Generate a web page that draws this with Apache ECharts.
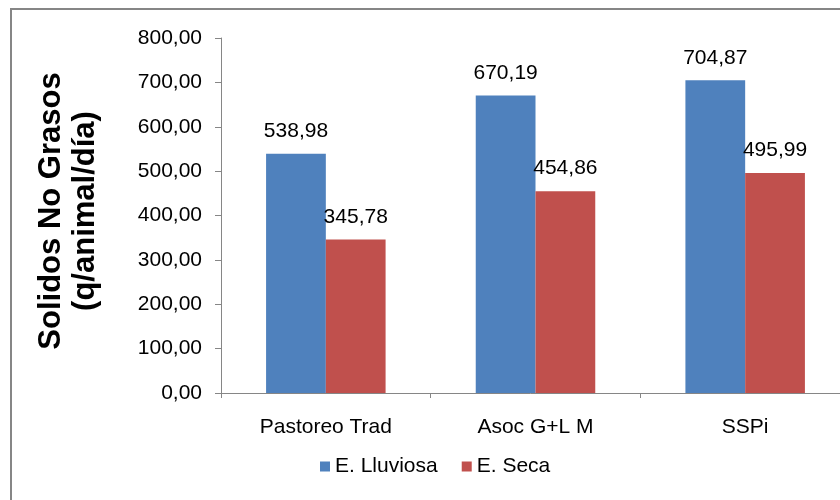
<!DOCTYPE html>
<html>
<head>
<meta charset="utf-8">
<script src="https://cdn.jsdelivr.net/npm/echarts@6/dist/echarts.min.js"></script>
<style>
  html, body { margin: 0; padding: 0; background: #ffffff; }
  #chart { width: 840px; height: 500px; }
</style>
</head>
<body>
<div id="chart"></div>
<script>
// Solids-not-fat yield per animal and day, by production system and season
const categories = ['Pastoreo Trad', 'Asoc G+L M', 'SSPi'];
const lluviosa = [538.98, 670.19, 704.87];
const seca = [345.78, 454.86, 495.99];
const seriesNames = ['E. Lluviosa', 'E. Seca'];
const axisTitle = 'Solidos No Grasos\n(q/animal/día)';

const FONT = '"Liberation Sans", Arial, sans-serif';
const AXIS_GREY = '#868686';
const fmt = v => Number(v).toFixed(2).replace('.', ',');

const chart = echarts.init(document.getElementById('chart'), null, { renderer: 'canvas' });

const barLabel = {
  show: true,
  position: 'top',
  distance: 12,
  color: '#000000',
  fontFamily: FONT,
  fontSize: 21,
  formatter: p => fmt(p.value)
};

chart.setOption({
  animation: false,
  backgroundColor: '#ffffff',
  textStyle: { fontFamily: FONT },
  // the plot area runs past the right edge of the canvas
  grid: { left: 221, top: 38, width: 629, height: 355, containLabel: false, outerBoundsMode: 'none' },
  legend: {
    data: seriesNames,
    left: 320,
    top: 456,
    padding: 0,
    icon: 'rect',
    itemWidth: 10,
    itemHeight: 10,
    itemGap: 24,
    textStyle: { fontFamily: FONT, fontSize: 21, color: '#000000' }
  },
  xAxis: {
    type: 'category',
    data: categories,
    axisLine: { lineStyle: { color: AXIS_GREY, width: 1 } },
    axisTick: { show: true, length: 5, alignWithLabel: false, lineStyle: { color: AXIS_GREY } },
    axisLabel: { margin: 24, color: '#000000', fontFamily: FONT, fontSize: 21 },
    splitLine: { show: false }
  },
  yAxis: {
    type: 'value',
    min: 0,
    max: 800,
    interval: 100,
    axisLine: { show: true, lineStyle: { color: AXIS_GREY, width: 1 } },
    axisTick: { show: true, length: 6, lineStyle: { color: AXIS_GREY } },
    axisLabel: { margin: 19, color: '#000000', fontFamily: FONT, fontSize: 21, formatter: fmt },
    splitLine: { show: false }
  },
  series: [
    {
      name: seriesNames[0],
      type: 'bar',
      data: lluviosa,
      barGap: '0%',
      barCategoryGap: '43%',
      itemStyle: { color: '#4F81BD' },
      label: barLabel
    },
    {
      name: seriesNames[1],
      type: 'bar',
      data: seca,
      barGap: '0%',
      barCategoryGap: '43%',
      itemStyle: { color: '#C0504D' },
      label: barLabel
    }
  ],
  graphic: [
    {
      type: 'rect',
      silent: true,
      shape: { x: 11, y: 9, width: 1000, height: 1000 },
      style: { fill: 'none', stroke: AXIS_GREY, lineWidth: 2 }
    },
    {
      type: 'text',
      silent: true,
      x: 68,
      y: 211,
      rotation: Math.PI / 2,
      style: {
        text: axisTitle,
        x: 0,
        y: 0,
        align: 'center',
        verticalAlign: 'middle',
        fontFamily: FONT,
        fontWeight: 'bold',
        fontSize: 31,
        lineHeight: 34,
        fill: '#000000'
      }
    }
  ]
});
</script>
</body>
</html>
